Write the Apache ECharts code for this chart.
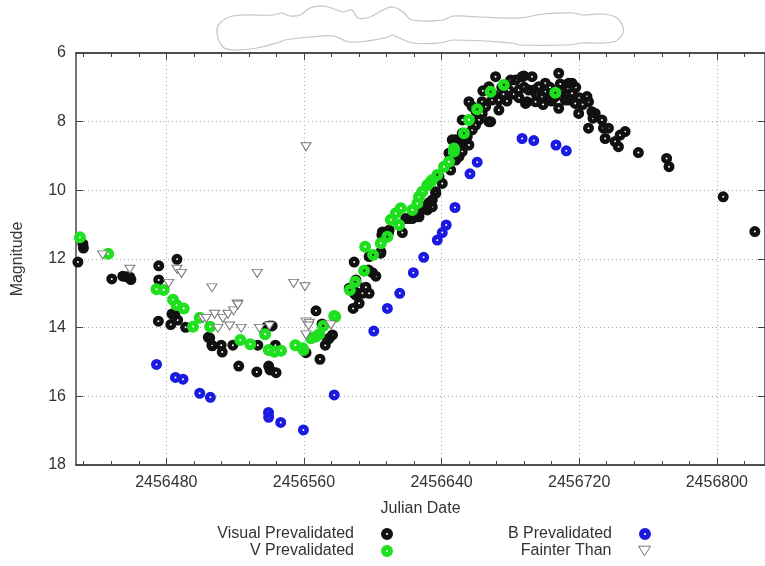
<!DOCTYPE html>
<html>
<head>
<meta charset="utf-8">
<script src="https://cdn.jsdelivr.net/npm/echarts@6/dist/echarts.min.js"></script>
<style>
  html, body { margin: 0; background: #fff; }
  #chart { width: 765px; height: 566px; }
</style>
</head>
<body>
<div id="chart"></div>
<script>
// light curve values, [Julian Date, magnitude]
var visualData = [
  [2456428.6,12.09],[2456431.5,11.56],[2456431.8,11.68],[2456448.3,12.58],[2456454.7,12.50],[2456457.0,12.52],[2456458.8,12.53],[2456459.4,12.60],
  [2456475.6,12.20],[2456475.6,12.61],[2456475.4,13.81],[2456486.2,12.01],[2456483.3,13.60],[2456484.9,13.62],[2456482.6,13.91],[2456486.6,13.78],[2456491.2,13.99],
  [2456504.4,14.28],[2456505.2,14.30],[2456506.5,14.51],[2456506.7,14.53],[2456511.9,14.51],[2456512.5,14.71],[2456518.7,14.51],[2456522.1,15.12],
  [2456532.6,15.29],[2456533.2,14.51],[2456539.5,15.12],[2456540.3,15.23],[2456543.8,15.31],[2456543.4,14.51],[2456539.9,13.95],[2456538.5,13.97],[2456541.5,13.95],
  [2456561.2,14.73],[2456567.0,13.51],[2456569.3,14.92],[2456570.5,13.89],[2456572.4,14.51],[2456573.7,14.34],[2456574.7,14.31],[2456576.6,14.21],
  [2456586.3,12.85],[2456588.6,13.44],[2456589.2,12.09],[2456590.2,12.61],[2456592.1,13.29],[2456590.2,13.05],[2456594.0,13.00],[2456597.9,13.00],[2456596.0,12.82],[2456592.1,12.82],[2456589.2,13.00],
  [2456595.0,12.34],[2456597.5,12.32],[2456599.8,12.40],[2456601.8,12.50],[2456604.7,11.79],[2456604.7,11.83],[2456597.9,11.93],[2456605.3,11.30],[2456605.6,11.21],[2456609.1,11.25],[2456609.5,11.16],
  [2456617.2,11.23],[2456619.2,10.82],[2456621.1,10.82],[2456623.0,10.82],[2456626.9,10.77],[2456626.9,10.66],[2456629.8,10.48],[2456631.7,10.57],[2456634.6,10.48],[2456634.6,10.28],[2456632.7,10.36],[2456636.6,10.04],[2456636.6,10.09],
  [2456640.4,9.80],[2456638.5,9.60],[2456645.3,9.41],[2456648.2,9.12],[2456650.1,9.02],[2456644.3,8.92],[2456652.0,8.87],[2456652.0,8.68],[2456648.2,8.53],[2456655.9,8.68],[2456654.9,8.44],[2456652.0,8.34],[2456657.8,8.24],[2456659.8,8.10],[2456646.2,8.53],[2456650.1,8.63],[2456652.0,7.95],
  [2456655.9,7.42],[2456657.8,7.56],[2456661.7,7.95],[2456663.6,7.76],[2456663.6,7.42],[2456665.6,7.56],[2456668.5,8.00],[2456667.5,8.00],[2456669.4,7.37],[2456673.3,7.66],[2456671.4,6.69],[2456673.3,7.37],[2456667.5,6.98],[2456676.0,7.20],
  [2456660.0,7.70],[2456664.0,7.10],[2456670.0,7.20],[2456675.0,7.00],[2456678.0,7.40],[2456682.0,7.20],
  [2456679.1,7.08],[2456680.1,6.79],[2456683.0,6.79],[2456684.9,7.08],[2456685.0,7.30],[2456686.8,6.69],[2456687.8,6.67],[2456688.8,7.47],[2456689.7,7.42],[2456690.7,7.08],[2456692.6,6.69],[2456693.6,7.08],[2456694.6,7.42],[2456696.5,6.98],[2456698.4,7.27],[2456700.3,6.88],[2456700.3,7.13],[2456702.3,7.37],[2456703.0,7.00],
  [2456688.0,7.00],[2456695.0,7.20],[2456699.0,7.50],[2456704.0,7.40],[2456709.0,6.90],[2456712.0,7.20],[2456718.0,7.00],[2456722.0,7.50],[2456728.0,7.90],
  [2456706.1,7.27],[2456708.1,6.59],[2456708.1,7.61],[2456710.0,7.10],[2456711.9,7.37],[2456713.9,6.88],[2456713.9,7.37],[2456715.8,6.88],[2456715.8,7.17],[2456717.7,7.47],[2456719.7,7.76],[2456720.0,7.30],
  [2456724.5,7.27],[2456725.4,7.42],[2456727.4,7.71],[2456725.4,8.19],[2456729.3,7.76],[2456733.2,7.95],[2456734.1,8.19],[2456737.0,8.19],[2456735.1,8.49],[2456740.9,8.58],[2456743.8,8.39],[2456746.7,8.29],[2456742.8,8.73],
  [2456754.4,8.90],[2456770.8,9.07],[2456772.2,9.31],[2456803.7,10.19],[2456822.1,11.20]
];
var vData = [
  [2456429.8,11.37],[2456446.2,11.85],[2456474.3,12.88],[2456478.5,12.90],[2456483.9,13.19],[2456485.9,13.34],[2456490.1,13.44],[2456499.4,13.71],[2456495.5,13.97],[2456505.5,13.97],
  [2456523.0,14.36],[2456528.8,14.48],[2456537.4,14.19],[2456539.5,14.65],[2456542.8,14.70],[2456546.7,14.67],[2456555.0,14.51],[2456559.2,14.60],[2456559.7,14.65],
  [2456564.1,14.31],[2456567.0,14.26],[2456568.9,14.19],[2456571.2,13.95],[2456577.6,13.66],[2456578.2,13.68],[2456586.7,12.90],[2456589.8,12.66],[2456595.0,12.34],
  [2456600.2,11.88],[2456595.6,11.64],[2456604.7,11.54],[2456608.5,11.35],[2456610.5,10.86],[2456613.4,10.67],[2456615.3,11.01],[2456616.3,10.52],[2456623.0,10.57],
  [2456625.9,10.38],[2456626.9,10.19],[2456628.8,10.04],[2456631.7,9.85],[2456633.7,9.75],[2456634.6,9.70],[2456637.5,9.55],[2456641.4,9.31],[2456644.3,9.17],
  [2456647.2,8.87],[2456647.2,8.78],[2456653.0,8.34],[2456655.9,7.95],[2456660.7,7.64],[2456668.5,7.13],[2456676.2,6.93],[2456706.1,7.16]
];
var bData = [
  [2456474.3,15.07],[2456485.3,15.45],[2456489.7,15.50],[2456499.4,15.91],[2456505.6,16.03],[2456539.4,16.47],[2456539.5,16.61],[2456546.5,16.76],[2456559.7,16.98],
  [2456577.6,15.96],[2456600.6,14.10],[2456608.5,13.44],[2456615.7,13.00],[2456623.6,12.40],[2456629.6,11.95],[2456637.5,11.45],[2456640.4,11.23],[2456642.7,11.01],
  [2456647.8,10.50],[2456656.5,9.52],[2456660.7,9.18],[2456686.8,8.49],[2456693.6,8.55],[2456706.5,8.68],[2456712.5,8.85]
];
var fainterData = [
  [2456443.0,11.88],[2456458.8,12.30],[2456481.4,12.71],[2456486.2,12.30],[2456488.8,12.42],[2456506.5,12.84],[2456532.8,12.42],[2456554.0,12.71],[2456560.6,12.81],
  [2456561.2,8.73],[2456501.3,13.73],[2456503.2,13.73],[2456508.1,13.61],[2456512.9,13.73],[2456515.8,13.61],[2456519.1,13.51],[2456521.2,13.31],[2456521.6,13.34],
  [2456510.0,14.02],[2456516.8,13.95],[2456523.5,14.02],[2456534.1,14.02],[2456539.9,13.95],[2456561.2,13.83],[2456561.2,14.21],[2456563.1,13.87],[2456562.7,13.95],[2456575.7,13.92]
];
var majorTicks = [2456480, 2456560, 2456640, 2456720, 2456800];
var minorTicks = [];
for (var t = 2456432; t <= 2456827; t += 16) minorTicks.push(t);

var xMin = 2456427.5, xMax = 2456828;
var font = 'Liberation Sans';
var txt = '#333';
var axisCol = '#444';

// disc with a small white dot in the middle
var dotSym = 'path://M0,10A10,10 0 1,1 20,10A10,10 0 1,1 0,10ZM8.2,10A1.8,1.8 0 1,0 11.8,10A1.8,1.8 0 1,0 8.2,10Z';
var triSym = 'path://M0,0L10,0L5,8Z';

function xAx(pos, ticks, len, labels, grid) {
  return {
    type: 'value', position: pos, min: xMin, max: xMax,
    axisLine: { show: true, onZero: false, lineStyle: { color: axisCol, width: 1.5 } },
    axisTick: { show: true, inside: true, length: len, customValues: ticks, lineStyle: { color: axisCol } },
    axisLabel: labels ? {
      show: true, customValues: majorTicks, margin: 10, color: txt, fontSize: 16, fontFamily: font,
      formatter: function (v) { return String(v); }
    } : { show: false },
    splitLine: { show: grid, lineStyle: { type: [1, 3], color: '#aaa' } }
  };
}

var chart = echarts.init(document.getElementById('chart'));
var option = {
  animation: false,
  backgroundColor: '#fff',
  grid: { left: 76, right: -3, top: 53, bottom: 101 },
  graphic: [{
    type: 'polygon',
    shape: {
      smooth: 0.4,
      points: [[220,23],[233,16],[273,15],[282,13],[290,16],[300,15],[310,8],[323,6],[337,10],[343,12],[352,10],[358,18],[370,17],
        [383,10],[393,7],[403,12],[412,20],[443,20],[453,16],[480,17],[520,18],[543,14],[573,13],[583,15],[603,14],[617,18],[623,27],
        [622,35],[613,42],[583,43],[567,45],[520,45],[513,43],[453,40],[440,43],[413,43],[397,37],[392,35],[385,38],[350,42],[333,36],
        [310,37],[285,40],[280,42],[257,48],[233,50],[223,47],[217,33]]
    },
    style: { fill: '#fff', stroke: '#c4c4c4', lineWidth: 1.2 }
  }],
  legend: [
    { data: ['Visual Prevalidated'], right: 372, top: 526 },
    { data: ['V Prevalidated'], right: 372, top: 543 },
    { data: ['B Prevalidated'], right: 114, top: 526 },
    { data: [{ name: 'Fainter Than', icon: triSym, itemStyle: { color: '#fff', borderColor: '#777', borderWidth: 1 } }], right: 114, top: 543 }
  ].map(function (l) {
    l.align = 'right'; l.padding = 0; l.itemWidth = 12; l.itemHeight = 12; l.selectedMode = false;
    l.textStyle = { fontSize: 16, color: txt, fontFamily: font, padding: [0, 22, 0, 0] };
    return l;
  }),
  xAxis: [
    Object.assign(xAx('bottom', majorTicks, 7, true, true), { name: 'Julian Date', nameLocation: 'middle', nameGap: 36, nameTextStyle: { fontSize: 16, color: txt, fontFamily: font } }),
    xAx('bottom', minorTicks, 4, false, false),
    xAx('top', majorTicks, 7, false, false),
    xAx('top', minorTicks, 4, false, false)
  ],
  yAxis: [
    {
      type: 'value', inverse: true, min: 6, max: 18, interval: 2, position: 'left',
      name: 'Magnitude', nameLocation: 'middle', nameGap: 50, nameRotate: 90,
      nameTextStyle: { fontSize: 16, color: txt, fontFamily: font },
      axisLine: { show: true, lineStyle: { color: axisCol, width: 1.5 } },
      axisTick: { show: true, inside: true, length: 7, lineStyle: { color: axisCol } },
      axisLabel: { margin: 10, color: txt, fontSize: 16, fontFamily: font },
      splitLine: { show: true, lineStyle: { type: [1, 3], color: '#aaa' } }
    },
    {
      type: 'value', inverse: true, min: 6, max: 18, interval: 2, position: 'right',
      axisLine: { show: true, lineStyle: { color: axisCol, width: 1.5 } },
      axisTick: { show: true, inside: true, length: 7, lineStyle: { color: axisCol } },
      axisLabel: { show: false },
      splitLine: { show: false }
    }
  ],
  series: [
    {
      name: 'Visual Prevalidated', type: 'scatter', data: visualData,
      symbol: dotSym, symbolSize: 11, symbolKeepAspect: true,
      itemStyle: { color: '#111', opacity: 1 }
    },
    {
      name: 'V Prevalidated', type: 'scatter', data: vData,
      symbol: dotSym, symbolSize: 12, symbolKeepAspect: true,
      itemStyle: { color: '#1ee01e', opacity: 1 }
    },
    {
      name: 'B Prevalidated', type: 'scatter', data: bData,
      symbol: dotSym, symbolSize: 11, symbolKeepAspect: true,
      itemStyle: { color: '#1a1ae0', opacity: 1 }
    },
    {
      name: 'Fainter Than', type: 'scatter', data: fainterData,
      symbol: triSym, symbolSize: [10, 8],
      itemStyle: { color: '#fff', borderColor: '#777', borderWidth: 1, opacity: 1 }
    }
  ]
};
chart.setOption(option);
</script>
</body>
</html>
